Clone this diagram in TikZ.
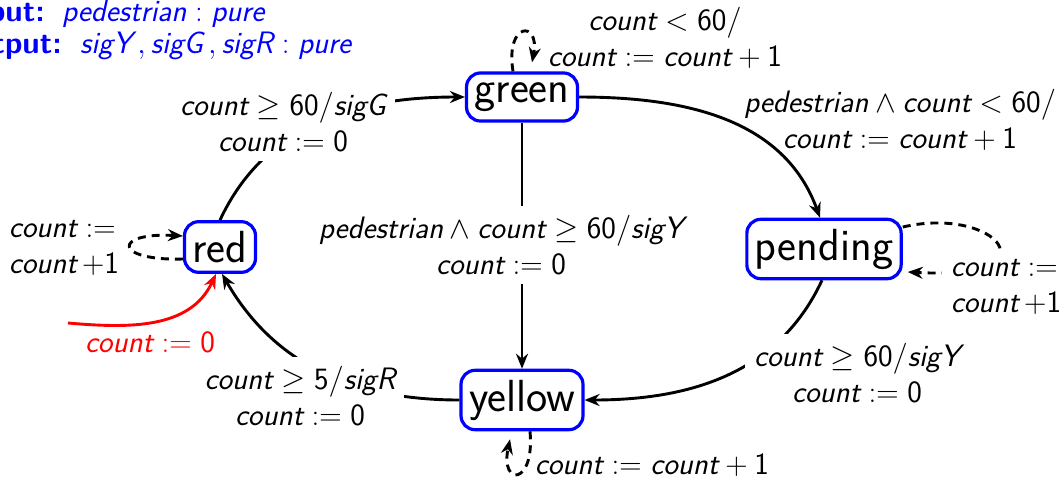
\RequirePackage{fix-cm}
\documentclass[tikz,border=0pt]{standalone}
\usepackage{amsmath}
\usetikzlibrary{arrows.meta}
\newcommand\vv[1]{\text{\sffamily\itshape #1}}
\newcommand\dd[1]{\text{\sffamily\upshape #1}}
\begin{document}
\begin{tikzpicture}[x=1pt,y=1pt,
  st/.style={draw=blue, line width=3.2pt, rounded corners=14pt, inner xsep=8pt, inner ysep=9.5pt,
    font=\fontsize{45}{52}\selectfont\sffamily, text=black},
  lbl/.style={font=\fontsize{31}{36}\selectfont\sffamily, align=center, inner sep=9pt},
  wl/.style={lbl, fill=white},
  hd/.style={font=\fontsize{31}{36}\selectfont\sffamily, text=blue, inner sep=0pt},
  tr/.style={line width=2.9pt, -{Stealth[length=15pt,width=12pt]}},
  lp/.style={tr, dash pattern=on 8pt off 6pt}]
\useasboundingbox (0,0) rectangle (1062,-480);

% header
\node[hd, anchor=base east, font=\fontsize{31}{36}\selectfont\sffamily\bfseries] (inl) at (45,-21) {Input:};
\node[hd, anchor=base west] (inv) at (62,-21) {$\vv{pedestrian} : \vv{pure}$};
\node[hd, anchor=base east, font=\fontsize{31}{36}\selectfont\sffamily\bfseries] (outl) at (62,-53) {Output:};
\node[hd, anchor=base west] (outv) at (80,-53) {$\vv{sigY}\,, \vv{sigG}\,, \vv{sigR} : \vv{pure}$};

% states
\node[st] (green) at (522,-97) {green};
\node[st] (red) at (220,-247) {red};
\node[st] (pending) at (824,-249) {pending};
\node[st] (yellow) at (522,-400) {yellow};

% transitions
\draw[tr] (red.north) to[out=65,in=180] (green.west);
\draw[tr] (green.east) to[out=0,in=110] ([xshift=-4]pending.north);
\draw[tr] (green.south) -- (yellow.north);
\draw[tr] ([xshift=-2]pending.south) to[out=-115,in=0] (yellow.east);
\draw[tr] (yellow.west) to[out=180,in=-60] ([xshift=2]red.south);
\coordinate (init) at (68,-323);
\draw[tr, red] (init) to[out=-5,in=-115] ([xshift=-4]red.south);

% self loops
\draw[lp] ([xshift=-9]green.north) .. controls +(-8,50) and +(8,42) .. ([xshift=10,yshift=9]green.north);
\draw[lp] ([yshift=-12]red.west) .. controls +(-70,-2) and +(-70,4) .. ([yshift=11]red.west);
\draw[lp] ([yshift=22]pending.east) .. controls +(95,22) and +(150,-8) .. ([xshift=5,yshift=-23]pending.east);
\draw[lp] ([xshift=8]yellow.south) .. controls +(5,-55) and +(-10,-47) .. ([xshift=-12,yshift=-8]yellow.south);

% labels
\node[wl] (lrg) at (283,-122) {$\vv{count} \geq \dd{60}/\vv{sigG}$\\$\vv{count} := \dd{0}$};
\node[lbl] (lgp) at (900,-120) {$\vv{pedestrian} \wedge \vv{count} < \dd{60}/$\\$\vv{count} := \vv{count} + \dd{1}$};
\node[wl] (lgy) at (501,-245) {$\vv{pedestrian} \wedge \vv{count} \geq \dd{60}/\vv{sigY}$\\$\vv{count} := \dd{0}$};
\node[wl] (lpy) at (857,-373) {$\vv{count} \geq \dd{60}/\vv{sigY}$\\$\vv{count} := \dd{0}$};
\node[wl] (lyr) at (300,-396) {$\vv{count} \geq \dd{5}/\vv{sigR}$\\$\vv{count} := \dd{0}$};
\node[lbl, text=red] (linit) at (150,-342) {$\vv{count} := \dd{0}$};
\node[lbl] (lgg) at (665,-38) {$\vv{count} < \dd{60}/$\\$\vv{count} := \vv{count} + \dd{1}$};
\node[lbl, align=left] (lrr) at (64,-248) {$\vv{count} :=$\\$\vv{count}\,{+}\dd{1}$};
\node[wl, align=left] (lpp) at (1006,-287) {$\vv{count} :=$\\$\vv{count}\,{+}\dd{1}$};
\node[lbl] (lyy) at (652,-465) {$\vv{count} := \vv{count} + \dd{1}$};
\end{tikzpicture}
\end{document}
